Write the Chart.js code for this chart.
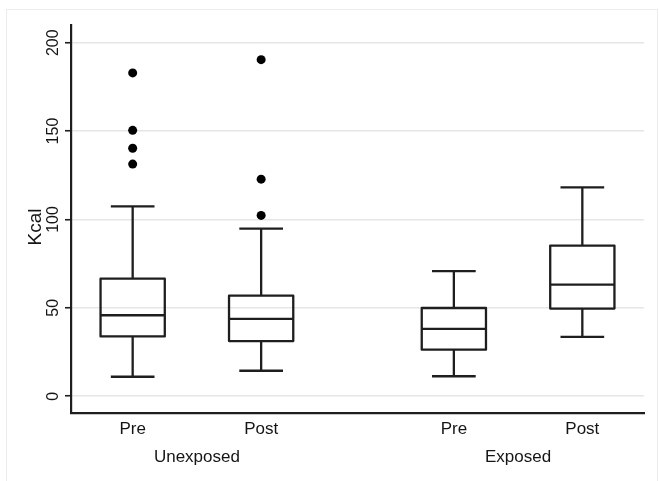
<!DOCTYPE html>
<html>
<head>
<meta charset="utf-8">
<script src="https://cdn.jsdelivr.net/npm/chart.js@4.4.1/dist/chart.umd.min.js"></script>
<style>
  html, body { margin: 0; padding: 0; background: #fff; }
  canvas { display: block; }
</style>
</head>
<body>
<canvas id="chart" width="659" height="481"></canvas>
<script>
// Kcal by exposure group, before and after
const groupLabels = ['Unexposed', 'Exposed']
const phaseLabels = ['Pre', 'Post', 'Pre', 'Post']
const whiskerLow = [11.0, 14.4, 11.3, 33.6]
const lowerQuartile = [33.8, 31.2, 26.3, 49.6]
const median = [45.8, 43.7, 38.1, 63.1]
const upperQuartile = [66.5, 56.9, 49.9, 85.2]
const whiskerHigh = [107.4, 94.8, 70.8, 118.1]
const outliers = [
  [131.3, 140.3, 150.4, 182.9],
  [102.3, 122.8, 190.4],
  [],
  []
]
const yTicks = [0, 50, 100, 150, 200]

// layout: slot of each box on the x scale (gap between the two groups)
const slots = [1, 2, 3.5, 4.5]
const groupSlots = [(slots[0] + slots[1]) / 2, (slots[2] + slots[3]) / 2]

const FONT = "'Liberation Sans', Arial, Helvetica, sans-serif"
const INK = '#151515'

const outlierPoints = []
outliers.forEach((vals, i) => {
  vals.forEach(v => outlierPoints.push({ x: slots[i], y: v }))
})

// Draws the faint frame round the picture
const framePlugin = {
  id: 'frame',
  beforeDraw (chart) {
    const ctx = chart.ctx
    ctx.save()
    ctx.fillStyle = '#fff'
    ctx.fillRect(0, 0, chart.width, chart.height)
    ctx.strokeStyle = '#ececec'
    ctx.lineWidth = 1
    ctx.strokeRect(6.5, 9.5, 651, 480)
    ctx.restore()
  }
}

// Boxes, whiskers and medians, placed through the chart scales
const boxPlugin = {
  id: 'boxes',
  afterDatasetsDraw (chart) {
    const { ctx, scales: { x, y } } = chart
    const half = x.getPixelForValue(0.25) - x.getPixelForValue(0)
    const cap = x.getPixelForValue(0.17) - x.getPixelForValue(0)
    ctx.save()
    ctx.strokeStyle = '#1e1e1e'
    ctx.lineWidth = 2.3
    ctx.lineJoin = 'round'
    slots.forEach((s, i) => {
      const cx = x.getPixelForValue(s)
      const lo = y.getPixelForValue(whiskerLow[i])
      const q1 = y.getPixelForValue(lowerQuartile[i])
      const md = y.getPixelForValue(median[i])
      const q3 = y.getPixelForValue(upperQuartile[i])
      const hi = y.getPixelForValue(whiskerHigh[i])
      ctx.beginPath()
      // whiskers
      ctx.moveTo(cx, q1); ctx.lineTo(cx, lo)
      ctx.moveTo(cx - cap, lo); ctx.lineTo(cx + cap, lo)
      ctx.moveTo(cx, q3); ctx.lineTo(cx, hi)
      ctx.moveTo(cx - cap, hi); ctx.lineTo(cx + cap, hi)
      // median
      ctx.moveTo(cx - half, md); ctx.lineTo(cx + half, md)
      ctx.stroke()
      ctx.strokeRect(cx - half, q3, half * 2, q1 - q3)
    })
    ctx.restore()
  }
}

// Vertical tick labels and the axis title
const yLabelPlugin = {
  id: 'yLabels',
  afterDraw (chart) {
    const { ctx, scales: { y } } = chart
    ctx.save()
    ctx.fillStyle = INK
    ctx.textAlign = 'center'
    ctx.textBaseline = 'alphabetic'
    ctx.font = '16px ' + FONT
    yTicks.forEach(v => {
      ctx.save()
      ctx.translate(57.5, y.getPixelForValue(v))
      ctx.rotate(-Math.PI / 2)
      ctx.fillText(String(v), 0, 0)
      ctx.restore()
    })
    ctx.font = '19px ' + FONT
    ctx.translate(40.5, (y.top + y.bottom) / 2 + 8)
    ctx.rotate(-Math.PI / 2)
    ctx.fillText('Kcal', 0, 0)
    ctx.restore()
  }
}

new Chart(document.getElementById('chart'), {
  type: 'scatter',
  data: {
    datasets: [{
      label: 'Outliers',
      data: outlierPoints,
      backgroundColor: '#000',
      borderWidth: 0,
      pointRadius: 4.5
    }]
  },
  options: {
    responsive: false,
    animation: false,
    devicePixelRatio: 1,
    layout: { padding: { top: 25, right: 15, left: 0, bottom: 0 } },
    plugins: {
      legend: { display: false },
      tooltip: { enabled: false }
    },
    scales: {
      x: {
        type: 'linear',
        position: 'bottom',
        min: 0.52,
        max: 4.98,
        afterBuildTicks: scale => { scale.ticks = slots.map(v => ({ value: v })) },
        afterFit: scale => { scale.height = 30 },
        grid: { display: false, drawTicks: false },
        border: { display: true, color: '#1e1e1e', width: 2.2 },
        ticks: {
          autoSkip: false,
          maxRotation: 0,
          padding: 6,
          color: INK,
          font: { family: FONT, size: 17 },
          callback: (v, i) => phaseLabels[i]
        }
      },
      x2: {
        type: 'linear',
        position: 'bottom',
        weight: 1,
        min: 0.52,
        max: 4.98,
        afterBuildTicks: scale => { scale.ticks = groupSlots.map(v => ({ value: v })) },
        afterFit: scale => { scale.height = 38 },
        grid: { display: false, drawTicks: false },
        border: { display: false },
        ticks: {
          autoSkip: false,
          maxRotation: 0,
          padding: 4,
          color: INK,
          font: { family: FONT, size: 17 },
          callback: (v, i) => groupLabels[i]
        }
      },
      y: {
        min: -9.5,
        max: 210,
        afterBuildTicks: scale => { scale.ticks = yTicks.map(v => ({ value: v })) },
        afterFit: scale => { scale.width = 71 },
        grid: {
          color: '#e6e6e6',
          lineWidth: 1.5,
          drawTicks: true,
          tickLength: 6,
          tickColor: '#1e1e1e',
          tickWidth: 1.6
        },
        border: { display: true, color: '#1e1e1e', width: 2.2 },
        ticks: { display: false }
      }
    }
  },
  plugins: [framePlugin, boxPlugin, yLabelPlugin]
})
</script>
</body>
</html>
